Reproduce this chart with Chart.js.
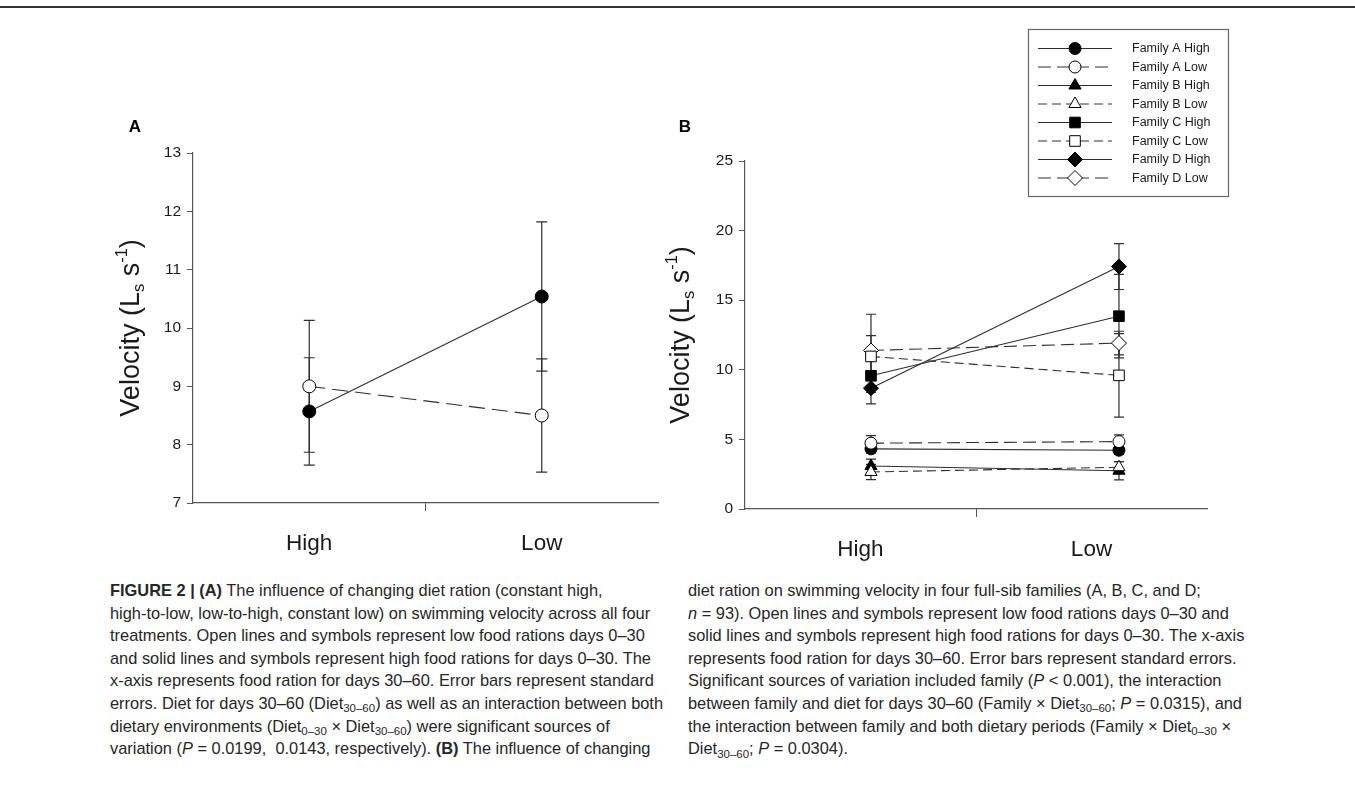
<!DOCTYPE html>
<html><head><meta charset="utf-8">
<script src="https://cdn.jsdelivr.net/npm/chart.js@4.4.1/dist/chart.umd.min.js"></script>
<style>
html,body{margin:0;padding:0;background:#fff;}
body{width:1355px;height:806px;position:relative;overflow:hidden;font-family:"Liberation Sans",Arial,sans-serif;}
#rule{position:absolute;left:0;top:6px;width:1355px;height:2px;background:#333;}
canvas{position:absolute;left:0;top:0;}
.cap{position:absolute;top:579px;font-size:16.4px;line-height:22.6px;color:#262626;white-space:nowrap;}
.cap sub{font-size:70%;vertical-align:baseline;position:relative;top:0.3em;line-height:0;}
</style></head>
<body>
<div id="rule"></div>
<canvas id="cA" width="1355" height="570"></canvas>
<canvas id="cB" width="1355" height="570"></canvas>
<div class="cap" style="left:110px">
<b>FIGURE 2 | (A)</b> The influence of changing diet ration (constant high,<br>
high-to-low, low-to-high, constant low) on swimming velocity across all four<br>
treatments. Open lines and symbols represent low food rations days 0–30<br>
and solid lines and symbols represent high food rations for days 0–30. The<br>
x-axis represents food ration for days 30–60. Error bars represent standard<br>
errors. Diet for days 30–60 (Diet<sub>30–60</sub>) as well as an interaction between both<br>
dietary environments (Diet<sub>0–30</sub> × Diet<sub>30–60</sub>) were significant sources of<br>
variation (<i>P</i> = 0.0199,&nbsp; 0.0143, respectively). <b>(B)</b> The influence of changing
</div>
<div class="cap" style="left:688px">
diet ration on swimming velocity in four full-sib families (A, B, C, and D;<br>
<i>n</i> = 93). Open lines and symbols represent low food rations days 0–30 and<br>
solid lines and symbols represent high food rations for days 0–30. The x-axis<br>
represents food ration for days 30–60. Error bars represent standard errors.<br>
Significant sources of variation included family (<i>P</i> &lt; 0.001), the interaction<br>
between family and diet for days 30–60 (Family × Diet<sub>30–60</sub>; <i>P</i> = 0.0315), and<br>
the interaction between family and both dietary periods (Family × Diet<sub>0–30</sub> ×<br>
Diet<sub>30–60</sub>; <i>P</i> = 0.0304).
</div>
<script>
// ---------------- DATA ----------------
const categories = ['High', 'Low'];

// Panel A
const aHighValues = [8.57, 10.54];
const aHighErrors = [0.92, 1.28];
const aLowValues  = [9.0, 8.5];
const aLowErrors  = [1.13, 0.97];
const aYTicks = [7, 8, 9, 10, 11, 12, 13];

// Panel B
const famAHigh = [4.32, 4.22];  const famAHighErr = [0.3, 0.3];
const famALow  = [4.73, 4.84];  const famALowErr  = [0.54, 0.48];
const famBHigh = [3.09, 2.75];  const famBHighErr = [0.5, 0.66];
const famBLow  = [2.66, 3.0];   const famBLowErr  = [0.55, 0.4];
const famCHigh = [9.57, 13.85]; const famCHighErr = [1.2, 3.0];
const famCLow  = [10.96, 9.6];  const famCLowErr  = [1.5, 3.0];
const famDHigh = [8.68, 17.42]; const famDHighErr = [1.13, 1.65];
const famDLow  = [11.39, 11.92];const famDLowErr  = [2.6, 0.85];
const bYTicks = [0, 5, 10, 15, 20, 25];
const bLegendLabels = ['Family A High','Family A Low','Family B High','Family B Low',
                       'Family C High','Family C Low','Family D High','Family D Low'];

// ---------------- STYLE ----------------
const FAMILY = '"Liberation Sans", Arial, Helvetica, sans-serif';
const AXIS = '#555';
const TEXT = '#1a1a1a';
const LINE = '#2e2e2e';

const errorBars = {
  id: 'errorBars',
  beforeDatasetsDraw(chart, args, opts) {
    const ctx = chart.ctx, y = chart.scales.y;
    const hw = opts.capHalf || 5.5;
    ctx.save();
    ctx.strokeStyle = LINE; ctx.lineWidth = 1.2; ctx.setLineDash([]);
    chart.data.datasets.forEach((ds, di) => {
      if (!ds.errors) return;
      const meta = chart.getDatasetMeta(di);
      meta.data.forEach((pt, i) => {
        const raw = ds.data[i];
        const v = typeof raw === 'object' ? raw.y : raw;
        const e = ds.errors[i];
        const t = y.getPixelForValue(v + e), b = y.getPixelForValue(v - e);
        const x = pt.x;
        ctx.beginPath();
        ctx.moveTo(x, t); ctx.lineTo(x, b);
        ctx.moveTo(x - hw, t); ctx.lineTo(x + hw, t);
        ctx.moveTo(x - hw, b); ctx.lineTo(x + hw, b);
        ctx.stroke();
      });
    });
    ctx.restore();
  }
};

const velTitle = {
  id: 'velTitle',
  afterDraw(chart, args, opts) {
    const ctx = chart.ctx, a = chart.chartArea;
    const fs = opts.size;
    const base = a.left - opts.offset;
    const cy = (a.top + a.bottom) / 2;
    const parts = [
      {t: 'Velocity (L', s: 1, dy: 0},
      {t: 's', s: 0.62, dy: 0.2},
      {t: ' s', s: 1, dy: 0},
      {t: '-1', s: 0.6, dy: -0.45},
      {t: ')', s: 1, dy: 0}
    ];
    ctx.save();
    ctx.translate(base, cy);
    ctx.rotate(-Math.PI / 2);
    let total = 0;
    parts.forEach(p => { ctx.font = `${fs * p.s}px ${FAMILY}`; p.w = ctx.measureText(p.t).width; total += p.w; });
    let x = -total / 2;
    ctx.fillStyle = TEXT; ctx.textBaseline = 'alphabetic'; ctx.textAlign = 'left';
    parts.forEach(p => { ctx.font = `${fs * p.s}px ${FAMILY}`; ctx.fillText(p.t, x, p.dy * fs); x += p.w; });
    ctx.restore();
    // panel letter
    ctx.save();
    ctx.font = `bold 17px ${FAMILY}`;
    ctx.fillStyle = '#000'; ctx.textAlign = 'center'; ctx.textBaseline = 'middle';
    ctx.fillText(opts.letter, a.left + opts.letterDx, a.top + opts.letterDy);
    ctx.restore();
  }
};

const familyLegend = {
  id: 'familyLegend',
  afterDraw(chart, args, opts) {
    const ctx = chart.ctx;
    const bx = opts.x, by = opts.y;
    ctx.save();
    ctx.fillStyle = '#fff';
    ctx.fillRect(bx, by, opts.w, opts.h);
    ctx.strokeStyle = '#666'; ctx.lineWidth = 1.2; ctx.setLineDash([]);
    ctx.strokeRect(bx + 0.5, by + 0.5, opts.w, opts.h);
    chart.data.datasets.forEach((ds, i) => {
      const ry = by + opts.firstRow + i * opts.rowStep;
      const x1 = bx + 10, x2 = bx + 84, xm = bx + 47;
      ctx.strokeStyle = LINE; ctx.lineWidth = 1;
      ctx.setLineDash(ds.borderDash || []);
      ctx.beginPath(); ctx.moveTo(x1, ry); ctx.lineTo(x2, ry); ctx.stroke();
      ctx.setLineDash([]);
      ctx.fillStyle = ds.pointBackgroundColor; ctx.strokeStyle = ds.pointBorderColor;
      ctx.lineWidth = ds.pointBorderWidth;
      Chart.helpers.drawPoint(ctx, {pointStyle: ds.pointStyle, radius: ds.pointRadius, borderWidth: ds.pointBorderWidth, rotation: 0}, xm, ry);
      ctx.fillStyle = TEXT;
      ctx.font = `12.5px ${FAMILY}`;
      ctx.textAlign = 'left'; ctx.textBaseline = 'middle';
      ctx.fillText(ds.label, bx + 104, ry + 0.5);
    });
    ctx.restore();
  }
};

function middleTickOnly(ctx) { return ctx.index === 1 ? AXIS : 'rgba(0,0,0,0)'; }

function xAxis() {
  return {
    type: 'category', offset: true,
    grid: {offset: true, drawOnChartArea: false, drawTicks: true, tickLength: 8, tickColor: middleTickOnly, color: AXIS},
    border: {display: true, color: AXIS, width: 1.2},
    ticks: {font: {size: 22.5, family: FAMILY}, color: TEXT, padding: 19, maxRotation: 0},
    afterFit: s => { s.height = 60; }
  };
}
function yAxis(ticks, width) {
  return {
    min: ticks[0], max: ticks[ticks.length - 1],
    grid: {drawOnChartArea: false, drawTicks: true, tickLength: 6, color: AXIS},
    border: {display: true, color: AXIS, width: 1.2},
    ticks: {stepSize: ticks[1] - ticks[0], font: {size: 15.5, family: FAMILY}, color: TEXT, padding: 6},
    afterFit: s => { s.width = width; }
  };
}

function series(label, values, errors, style, filled, dashed, radius, order, axis) {
  return {
    label, errors,
    data: axis ? values.map((v, i) => ({x: i, y: v})) : values,
    xAxisID: axis || 'x',
    borderColor: LINE, borderWidth: 1.1, borderDash: dashed || [],
    pointStyle: style, pointRadius: radius, pointHoverRadius: radius,
    pointBackgroundColor: filled ? '#000' : '#fff', pointBorderColor: '#000', pointBorderWidth: 1,
    fill: false, tension: 0, order
  };
}

// ---------------- PANEL A ----------------
new Chart(document.getElementById('cA'), {
  type: 'line',
  data: {
    labels: categories,
    datasets: [
      series('Low 0–30', aLowValues, aLowErrors, 'circle', false, [16, 7], 6.5, 0),
      series('High 0–30', aHighValues, aHighErrors, 'circle', true, [], 6.5, 1)
    ]
  },
  options: {
    responsive: false, animation: false, events: [],
    layout: {padding: {left: 150, top: 153, right: 697, bottom: 7}},
    plugins: {legend: {display: false}, tooltip: {enabled: false},
      errorBars: {capHalf: 5.5},
      velTitle: {size: 27, offset: 54, letter: 'A', letterDx: -58, letterDy: -26}},
    scales: {x: xAxis(), y: yAxis(aYTicks, 43)}
  },
  plugins: [errorBars, velTitle]
});

// ---------------- PANEL B ----------------
const dashLong = [13, 6], dashShort = [9, 5];
new Chart(document.getElementById('cB'), {
  type: 'line',
  data: {
    labels: categories,
    datasets: [
      series(bLegendLabels[0], famAHigh, famAHighErr, 'circle', true, [], 6, 1, 'xp'),
      series(bLegendLabels[1], famALow, famALowErr, 'circle', false, dashLong, 6, 0, 'xp'),
      series(bLegendLabels[2], famBHigh, famBHighErr, 'triangle', true, [], 7, 1, 'xp'),
      series(bLegendLabels[3], famBLow, famBLowErr, 'triangle', false, dashShort, 7, 0, 'xp'),
      series(bLegendLabels[4], famCHigh, famCHighErr, 'rect', true, [], 7.5, 1, 'xp'),
      series(bLegendLabels[5], famCLow, famCLowErr, 'rect', false, dashShort, 7.5, 0, 'xp'),
      series(bLegendLabels[6], famDHigh, famDHighErr, 'rectRot', true, [], 7.5, 1, 'xp'),
      series(bLegendLabels[7], famDLow, famDLowErr, 'rectRot', false, dashLong, 7.5, 0, 'xp')
    ]
  },
  options: {
    responsive: false, animation: false, events: [],
    layout: {padding: {left: 650, top: 161, right: 148, bottom: 1}},
    plugins: {legend: {display: false}, tooltip: {enabled: false},
      errorBars: {capHalf: 5},
      velTitle: {size: 27, offset: 56, letter: 'B', letterDx: -60, letterDy: -34},
      familyLegend: {x: 1028, y: 29, w: 200, h: 167, firstRow: 19.5, rowStep: 18.5}},
    scales: {
      x: xAxis(),
      xp: {type: 'linear', display: false, min: -0.508, max: 1.355},
      y: yAxis(bYTicks, 95)
    }
  },
  plugins: [errorBars, velTitle, familyLegend]
});
</script>
</body></html>
